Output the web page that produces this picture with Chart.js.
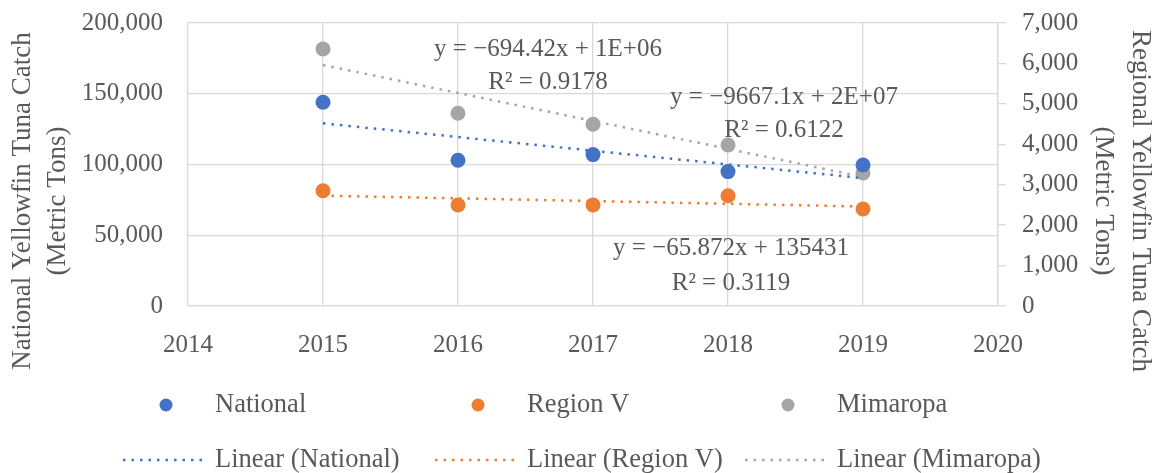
<!DOCTYPE html>
<html>
<head>
<meta charset="utf-8">
<script src="https://cdn.jsdelivr.net/npm/chart.js@4.4.1/dist/chart.umd.min.js"></script>
<style>
  html, body { margin: 0; padding: 0; background: #fff; }
  #wrap { width: 1153px; height: 473px; }
</style>
</head>
<body>
<div id="wrap"><canvas id="tunaChart" width="1153" height="473"></canvas></div>
<script>
// data
const years = [2015, 2016, 2017, 2018, 2019];
const national = [144000, 103000, 107000, 95000, 99600];   // left axis
const regionV = [2850, 2498, 2500, 2728, 2399];             // right axis
const mimaropa = [6357, 4766, 4494, 3982, 3290];            // right axis
const seriesNames = ["National", "Region V", "Mimaropa"];
const equations = [
  ["y = \u2212694.42x + 1E+06", "R\u00b2 = 0.9178"],
  ["y = \u22129667.1x + 2E+07", "R\u00b2 = 0.6122"],
  ["y = \u221265.872x + 135431", "R\u00b2 = 0.3119"]
];

const colors = ["#4472C4", "#ED7D31", "#A5A5A5"];
const textColor = "#595959";
const gridColor = "#d9d9d9";
const fontFamily = "'Liberation Serif', 'Times New Roman', serif";

// least squares fit, like Excel's linear trendline
function linearFit(xs, ys) {
  const n = xs.length;
  const mx = xs.reduce((a, b) => a + b, 0) / n;
  const my = ys.reduce((a, b) => a + b, 0) / n;
  let sxy = 0, sxx = 0;
  for (let i = 0; i < n; i++) {
    sxy += (xs[i] - mx) * (ys[i] - my);
    sxx += (xs[i] - mx) * (xs[i] - mx);
  }
  const slope = sxy / sxx;
  const first = xs[0], last = xs[n - 1];
  return [
    { x: first, y: my + slope * (first - mx) },
    { x: last, y: my + slope * (last - mx) }
  ];
}

const toPoints = (vals) => years.map((y, i) => ({ x: y, y: vals[i] }));

const scatterSet = (label, vals, color, axis) => ({
  type: "scatter",
  label: label,
  data: toPoints(vals),
  yAxisID: axis,
  backgroundColor: color,
  borderColor: color,
  pointRadius: 7.5,
  pointHoverRadius: 7.5,
  borderWidth: 0,
  order: 2
});

const trendSet = (label, vals, color, axis) => ({
  type: "line",
  label: "Linear (" + label + ")",
  data: linearFit(years, vals),
  yAxisID: axis,
  borderColor: color,
  borderWidth: 2.5,
  borderDash: [2.5, 6],
  pointRadius: 0,
  fill: false,
  order: 1
});

// text overlays: equations, axis titles, legend
const overlayPlugin = {
  id: "overlay",
  afterDraw(chart) {
    const ctx = chart.ctx;
    ctx.save();
    ctx.fillStyle = textColor;
    ctx.textBaseline = "middle";

    // trendline equations
    ctx.font = "25px " + fontFamily;
    ctx.textAlign = "center";
    const eqPos = [[548, 49, 82], [784, 97, 130], [731, 248, 283]];
    equations.forEach((eq, i) => {
      ctx.fillText(eq[0], eqPos[i][0], eqPos[i][1]);
      ctx.fillText(eq[1], eqPos[i][0], eqPos[i][2]);
    });

    // axis titles
    ctx.font = "27px " + fontFamily;
    const titles = [
      ["National Yellowfin Tuna Catch", 23, -1],
      ["(Metric Tons)", 58, -1],
      ["Regional Yellowfin Tuna Catch", 1140, 1],
      ["(Metric Tons)", 1103, 1]
    ];
    titles.forEach(([txt, x, dir]) => {
      ctx.save();
      ctx.translate(x, 201);
      ctx.rotate(dir * Math.PI / 2);
      ctx.fillText(txt, 0, 0);
      ctx.restore();
    });

    // legend, 3 columns x 2 rows
    ctx.font = "26.5px " + fontFamily;
    ctx.textAlign = "left";
    const colX = [123, 435, 745];
    seriesNames.forEach((name, i) => {
      const x0 = colX[i];
      ctx.fillStyle = colors[i];
      ctx.beginPath();
      ctx.arc(x0 + 43, 405, 6.5, 0, Math.PI * 2);
      ctx.fill();
      ctx.strokeStyle = colors[i];
      ctx.lineWidth = 2.5;
      ctx.setLineDash([2.5, 6]);
      ctx.beginPath();
      ctx.moveTo(x0, 460);
      ctx.lineTo(x0 + 80, 460);
      ctx.stroke();
      ctx.setLineDash([]);
      ctx.fillStyle = textColor;
      ctx.fillText(name, x0 + 92, 405);
      ctx.fillText("Linear (" + name + ")", x0 + 92, 460);
    });
    ctx.restore();
  }
};

// keep the tick label overflow from pushing the plot area down
const fitY = (width) => (scale) => {
  scale.width = width;
  scale.paddingTop = 0;
  scale.paddingBottom = 0;
};

new Chart(document.getElementById("tunaChart"), {
  data: {
    datasets: [
      scatterSet(seriesNames[0], national, colors[0], "y"),
      scatterSet(seriesNames[1], regionV, colors[1], "y1"),
      scatterSet(seriesNames[2], mimaropa, colors[2], "y1"),
      trendSet(seriesNames[0], national, colors[0], "y"),
      trendSet(seriesNames[1], regionV, colors[1], "y1"),
      trendSet(seriesNames[2], mimaropa, colors[2], "y1")
    ]
  },
  options: {
    responsive: false,
    animation: false,
    layout: { padding: { top: 23, left: 0, right: 0, bottom: 0 } },
    plugins: {
      legend: { display: false },
      tooltip: { enabled: false }
    },
    scales: {
      x: {
        type: "linear",
        min: 2014,
        max: 2020,
        ticks: {
          stepSize: 1,
          padding: 24,
          color: textColor,
          font: { family: fontFamily, size: 25 },
          callback: (v) => String(v)
        },
        grid: { color: gridColor, lineWidth: 1.3, drawTicks: false },
        border: { display: true, color: gridColor, width: 1.3 },
        afterFit: (scale) => { scale.height = 167; }
      },
      y: {
        position: "left",
        min: 0,
        max: 200000,
        ticks: {
          stepSize: 50000,
          padding: 25,
          color: textColor,
          font: { family: fontFamily, size: 25 },
          callback: (v) => v.toLocaleString("en-US")
        },
        grid: { color: gridColor, lineWidth: 1.3, drawTicks: false },
        border: { display: false },
        afterFit: fitY(188)
      },
      y1: {
        position: "right",
        min: 0,
        max: 7000,
        ticks: {
          stepSize: 1000,
          padding: 16,
          color: textColor,
          font: { family: fontFamily, size: 25 },
          callback: (v) => v.toLocaleString("en-US")
        },
        grid: { drawOnChartArea: false, drawTicks: true, tickLength: 8, color: gridColor, lineWidth: 1.3 },
        border: { display: true, color: gridColor, width: 1.3 },
        afterFit: fitY(155)
      }
    }
  },
  plugins: [overlayPlugin]
});
</script>
</body>
</html>
